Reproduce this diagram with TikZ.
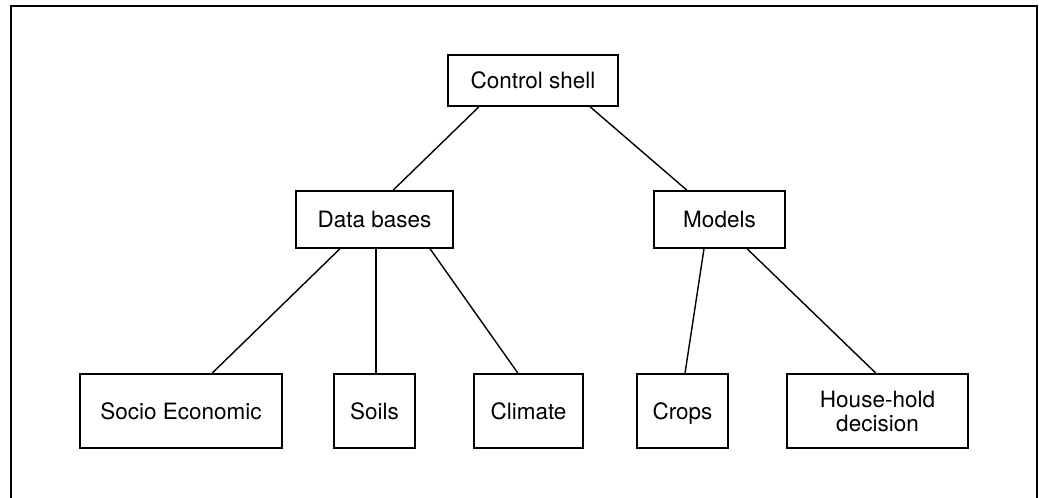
\documentclass[tikz,border=0pt]{standalone}
\usepackage{fontspec}
\setmainfont{TeX Gyre Heros}
\begin{document}
\begin{tikzpicture}[x=1pt,y=-1pt,
  box/.style={draw, line width=1.4pt, inner sep=0pt, align=center,
    font=\fontsize{22.5}{24}\selectfont},
  onebox/.style={box, text height=16.5pt, text depth=0.5pt},
  link/.style={line width=1.4pt}]
\useasboundingbox (0,0) rectangle (1039,498);
\draw[line width=1.8pt] (11,498) -- (11,6) -- (1037,6) -- (1037,498);
\node[onebox, minimum width=170pt, minimum height=51pt] (cs) at (533,80.5) {Control shell};
\node[onebox, minimum width=157pt, minimum height=57pt] (db) at (374.5,219.5) {Data bases};
\node[onebox, minimum width=131pt, minimum height=57pt] (mo) at (719.5,219.5) {Models};
\node[onebox, minimum width=202pt, minimum height=74pt] (se) at (181,411) {Socio Economic};
\node[onebox, minimum width=81pt, minimum height=74pt] (so) at (374.5,411) {Soils};
\node[onebox, minimum width=109pt, minimum height=74pt] (cl) at (528.5,411) {Climate};
\node[onebox, minimum width=91pt, minimum height=74pt] (cr) at (682.5,411) {Crops};
\node[box, minimum width=181pt, minimum height=74pt] (hh) at (877.5,411) {House-hold\\decision};
\draw[link] ([xshift=-54pt]cs.south) -- ([xshift=18.5pt]db.north);
\draw[link] ([xshift=57pt]cs.south) -- ([xshift=-32.5pt]mo.north);
\draw[link] ([xshift=-34.5pt]db.south) -- ([xshift=31pt]se.north);
\draw[link] ([xshift=1.5pt]db.south) -- ([xshift=1.5pt]so.north);
\draw[link] ([xshift=55.5pt]db.south) -- ([xshift=-10.5pt]cl.north);
\draw[link] ([xshift=-15.5pt]mo.south) -- ([xshift=2.5pt]cr.north);
\draw[link] ([xshift=27.5pt]mo.south) -- ([xshift=-1.5pt]hh.north);
\end{tikzpicture}
\end{document}
